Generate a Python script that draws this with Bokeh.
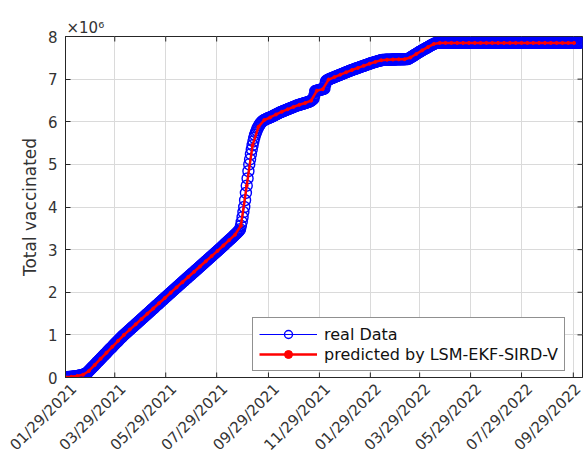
from math import pi

import numpy as np
import pandas as pd
from bokeh.embed import file_html
from bokeh.models import (CustomJSTickFormatter, FixedTicker, Legend, LegendItem, Range1d)
from bokeh.plotting import figure
from bokeh.resources import INLINE

# ---- data -------------------------------------------------------------
start_date = "2021-01-29"

# cumulative vaccinated, thousands, one value per day from start_date
real_total_k = [
    5, 6, 8, 9, 11, 12, 14, 16, 18, 20,
    22, 25, 28, 31, 34, 38, 42, 46, 50, 55,
    60, 66, 73, 81, 90, 102, 115, 134, 154, 174,
    195, 216, 236, 255, 274, 295, 316, 338, 359, 379,
    398, 417, 438, 459, 480, 501, 521, 540, 559, 580,
    601, 622, 643, 663, 682, 701, 721, 742, 763, 784,
    804, 823, 842, 862, 883, 904, 924, 943, 962, 981,
    1000, 1018, 1036, 1054, 1071, 1088, 1106, 1124, 1142, 1160,
    1177, 1194, 1212, 1230, 1248, 1266, 1283, 1300, 1318, 1336,
    1354, 1372, 1389, 1406, 1424, 1442, 1460, 1478, 1495, 1512,
    1530, 1548, 1566, 1584, 1601, 1618, 1636, 1654, 1672, 1690,
    1707, 1724, 1742, 1760, 1778, 1796, 1813, 1830, 1848, 1866,
    1884, 1902, 1920, 1938, 1955, 1972, 1990, 2008, 2026, 2043,
    2060, 2078, 2096, 2113, 2130, 2148, 2166, 2183, 2200, 2218,
    2236, 2253, 2270, 2288, 2306, 2323, 2340, 2358, 2376, 2393,
    2410, 2428, 2446, 2463, 2480, 2498, 2516, 2533, 2550, 2568,
    2586, 2603, 2620, 2638, 2656, 2673, 2690, 2708, 2726, 2743,
    2760, 2778, 2796, 2813, 2830, 2848, 2866, 2883, 2900, 2918,
    2936, 2953, 2970, 2988, 3006, 3024, 3042, 3060, 3078, 3096,
    3114, 3132, 3150, 3168, 3186, 3204, 3222, 3240, 3258, 3276,
    3294, 3313, 3332, 3351, 3370, 3389, 3408, 3428, 3452, 3480,
    3560, 3650, 3760, 3880, 4000, 4160, 4330, 4500, 4670, 4840,
    5000, 5120, 5240, 5350, 5450, 5540, 5620, 5690, 5750, 5800,
    5850, 5880, 5920, 5950, 5975, 5995, 6015, 6030, 6040, 6050,
    6060, 6070, 6080, 6088, 6095, 6100, 6110, 6120, 6130, 6140,
    6150, 6160, 6170, 6180, 6190, 6200, 6210, 6220, 6228, 6236,
    6244, 6252, 6260, 6268, 6276, 6284, 6292, 6300, 6308, 6316,
    6324, 6332, 6340, 6348, 6356, 6364, 6372, 6380, 6386, 6392,
    6398, 6404, 6410, 6416, 6422, 6428, 6434, 6440, 6446, 6452,
    6458, 6464, 6470, 6480, 6495, 6510, 6525, 6540, 6620, 6720,
    6725, 6730, 6735, 6740, 6745, 6750, 6755, 6760, 6765, 6770,
    6775, 6870, 6950, 6970, 6980, 6990, 7000, 7008, 7016, 7024,
    7032, 7040, 7048, 7056, 7064, 7072, 7080, 7088, 7096, 7104,
    7112, 7120, 7128, 7136, 7144, 7152, 7160, 7168, 7176, 7184,
    7192, 7200, 7207, 7214, 7221, 7228, 7235, 7242, 7249, 7256,
    7263, 7270, 7277, 7284, 7291, 7298, 7305, 7312, 7319, 7326,
    7333, 7340, 7347, 7354, 7361, 7368, 7374, 7380, 7386, 7392,
    7398, 7404, 7410, 7416, 7422, 7428, 7433, 7438, 7443, 7447,
    7450, 7451, 7452, 7453, 7454, 7455, 7455, 7456, 7457, 7458,
    7458, 7459, 7460, 7460, 7461, 7462, 7462, 7463, 7464, 7464,
    7465, 7465, 7466, 7466, 7467, 7467, 7468, 7468, 7469, 7469,
    7470, 7482, 7494, 7506, 7518, 7530, 7542, 7554, 7566, 7578,
    7590, 7603, 7616, 7630, 7641, 7652, 7663, 7674, 7685, 7696,
    7707, 7718, 7729, 7740, 7751, 7762, 7773, 7784, 7795, 7806,
    7816, 7826, 7835, 7843, 7850, 7850, 7850, 7850, 7850, 7850,
    7850, 7850, 7850, 7850, 7850, 7850, 7850, 7850, 7850, 7850,
    7850, 7850, 7850, 7850, 7850, 7850, 7850, 7850, 7850, 7850,
    7850, 7850, 7850, 7850, 7850, 7850, 7850, 7850, 7850, 7850,
    7850, 7850, 7850, 7850, 7850, 7850, 7850, 7850, 7850, 7850,
    7850, 7850, 7850, 7850, 7850, 7850, 7850, 7850, 7850, 7850,
    7850, 7850, 7850, 7850, 7850, 7850, 7850, 7850, 7850, 7850,
    7850, 7850, 7850, 7850, 7850, 7850, 7850, 7850, 7850, 7850,
    7850, 7850, 7850, 7850, 7850, 7850, 7850, 7850, 7850, 7850,
    7850, 7850, 7850, 7850, 7850, 7850, 7850, 7850, 7850, 7850,
    7850, 7850, 7850, 7850, 7850, 7850, 7850, 7850, 7850, 7850,
    7850, 7850, 7850, 7850, 7850, 7850, 7850, 7850, 7850, 7850,
    7850, 7850, 7850, 7850, 7850, 7850, 7850, 7850, 7850, 7850,
    7850, 7850, 7850, 7850, 7850, 7850, 7850, 7850, 7850, 7850,
    7850, 7850, 7850, 7850, 7850, 7850, 7850, 7850, 7850, 7850,
    7850, 7850, 7850, 7850, 7850, 7850, 7850, 7850, 7850, 7850,
    7850, 7850, 7850, 7850, 7850, 7850, 7850, 7850, 7850, 7850,
    7850, 7850, 7850, 7850, 7850, 7850, 7850,
]

# model output (LSM-EKF-SIRD-V), thousands, one value per week from start_date
pred_total_k = [
    5, 16, 34, 66, 154, 295, 438, 580, 721, 862,
    1000, 1124, 1248, 1372, 1495, 1618, 1742, 1866, 1990, 2113,
    2236, 2358, 2480, 2603, 2726, 2848, 2970, 3096, 3222, 3351,
    3560, 4500, 5450, 5880, 6040, 6100, 6170, 6236, 6292, 6348,
    6398, 6440, 6495, 6730, 6765, 6990, 7048, 7104, 7160, 7214,
    7263, 7312, 7361, 7404, 7443, 7455, 7460, 7464, 7468, 7506,
    7590, 7674, 7751, 7826, 7850, 7850, 7850, 7850, 7850, 7850,
    7850, 7850, 7850, 7850, 7850, 7850, 7850, 7850, 7850, 7850,
    7850, 7850, 7850, 7850, 7850, 7850, 7850, 7850,
]

x_tick_dates = [
    "2021-01-29", "2021-03-29", "2021-05-29", "2021-07-29", "2021-09-29",
    "2021-11-29", "2022-01-29", "2022-03-29", "2022-05-29", "2022-07-29",
    "2022-09-29",
]
y_tick_millions = [0, 1, 2, 3, 4, 5, 6, 7, 8]
x_end_date = "2022-10-10"

real_dates = pd.date_range(start_date, periods=len(real_total_k), freq="D")
pred_dates = pd.date_range(start_date, periods=len(pred_total_k), freq="7D")
real_y = np.array(real_total_k, dtype=float) * 1000.0
pred_y = np.array(pred_total_k, dtype=float) * 1000.0

DAY_MS = 86400000.0
x_ticks = [pd.Timestamp(d).value / 1e6 for d in x_tick_dates]
y_ticks = [v * 1e6 for v in y_tick_millions]
x0 = pd.Timestamp(start_date).value / 1e6
x1 = pd.Timestamp(x_end_date).value / 1e6

# rotated date labels hang a little to the right of their tick
LABEL_SHIFT_MS = 10 * DAY_MS
x_label_ticks = [t + LABEL_SHIFT_MS for t in x_ticks]

FONT = "DejaVu Sans"
AX_COLOR = "#262626"
LBL_COLOR = "#333333"

# ---- figure -----------------------------------------------------------
p = figure(
    width=584, height=464,
    x_axis_type="datetime",
    x_range=Range1d(x0, x1),
    y_range=Range1d(0, 8e6),
    output_backend="svg", toolbar_location=None,
    min_border_left=65, min_border_right=2, min_border_top=36, min_border_bottom=87,
    title="×10⁶",
)
p.background_fill_color = "white"
p.border_fill_color = "white"
p.outline_line_color = AX_COLOR
p.outline_line_width = 1

p.title.text_font = FONT
p.title.text_font_size = "15px"
p.title.text_font_style = "normal"
p.title.text_color = LBL_COLOR
p.title.align = "left"
p.title.offset = 1
p.title.standoff = 0

# grid
p.xgrid.ticker = FixedTicker(ticks=x_ticks)
p.ygrid.ticker = FixedTicker(ticks=y_ticks)
for g in (p.xgrid, p.ygrid):
    g.grid_line_color = "#dadada"
    g.grid_line_width = 1

date_fmt = CustomJSTickFormatter(args=dict(shift=LABEL_SHIFT_MS), code="""
    const d = new Date(tick - shift);
    const mm = String(d.getUTCMonth() + 1).padStart(2, '0');
    const dd = String(d.getUTCDate()).padStart(2, '0');
    return mm + '/' + dd + '/' + d.getUTCFullYear();
""")
mill_fmt = CustomJSTickFormatter(code="return (tick / 1e6).toFixed(0);")

# bottom axis: date labels only (tick marks drawn below with the box ticks)
xa = p.xaxis[0]
xa.ticker = FixedTicker(ticks=x_label_ticks)
xa.formatter = date_fmt
xa.major_label_orientation = pi / 4
xa.major_label_text_font = FONT
xa.major_label_text_font_size = "15px"
xa.major_label_text_color = LBL_COLOR
xa.major_label_standoff = 9
xa.major_tick_line_color = None
xa.major_tick_in = 0
xa.major_tick_out = 0

# left axis
ya = p.yaxis[0]
ya.ticker = FixedTicker(ticks=y_ticks)
ya.formatter = mill_fmt
ya.major_label_text_font = FONT
ya.major_label_text_font_size = "15px"
ya.major_label_text_color = LBL_COLOR
ya.major_label_standoff = 8
ya.axis_label = "Total vaccinated"
ya.axis_label_text_font = FONT
ya.axis_label_text_font_size = "17px"
ya.axis_label_text_font_style = "normal"
ya.axis_label_text_color = LBL_COLOR
ya.axis_label_standoff = 5
ya.major_tick_line_color = AX_COLOR
ya.major_tick_in = 5
ya.major_tick_out = 0

for ax in (xa, ya):
    ax.axis_line_color = AX_COLOR
    ax.minor_tick_line_color = None

# inward tick marks on bottom, top and right edges of the box
n_x = len(x_ticks)
n_y = len(y_ticks)
p.scatter(x_ticks, [0.0] * n_x, marker="dash", angle=pi / 2, size=10,
          line_color=AX_COLOR, line_width=1)
p.scatter(x_ticks, [8e6] * n_x, marker="dash", angle=pi / 2, size=10,
          line_color=AX_COLOR, line_width=1)
p.scatter([x1] * n_y, y_ticks, marker="dash", size=10,
          line_color=AX_COLOR, line_width=1)

# ---- series -----------------------------------------------------------
real_line = p.line(real_dates, real_y, line_color="#0000ff", line_width=1)
real_pts = p.scatter(real_dates, real_y, marker="circle", size=11,
                     fill_color=None, line_color="#0000ff", line_width=1.4)
pred_line = p.line(pred_dates, pred_y, line_color="#ff0000", line_width=2.5)
pred_pts = p.scatter(pred_dates, pred_y, marker="circle", size=3,
                     fill_color="#ff0000", line_color="#ff0000")

legend = Legend(
    items=[LegendItem(label="real Data", renderers=[real_line, real_pts]),
           LegendItem(label="predicted by LSM-EKF-SIRD-V", renderers=[pred_line, pred_pts])],
    location=(187, 6),
    label_text_font=FONT, label_text_font_size="16px", label_text_color="#111111",
    glyph_width=58, glyph_height=20, label_height=20, label_standoff=7,
    spacing=0, padding=6, margin=0,
    border_line_color="#222222", border_line_width=1,
    background_fill_color="white", background_fill_alpha=1.0,
)
p.add_layout(legend)

open("out.html", "w").write(file_html(p, INLINE))
